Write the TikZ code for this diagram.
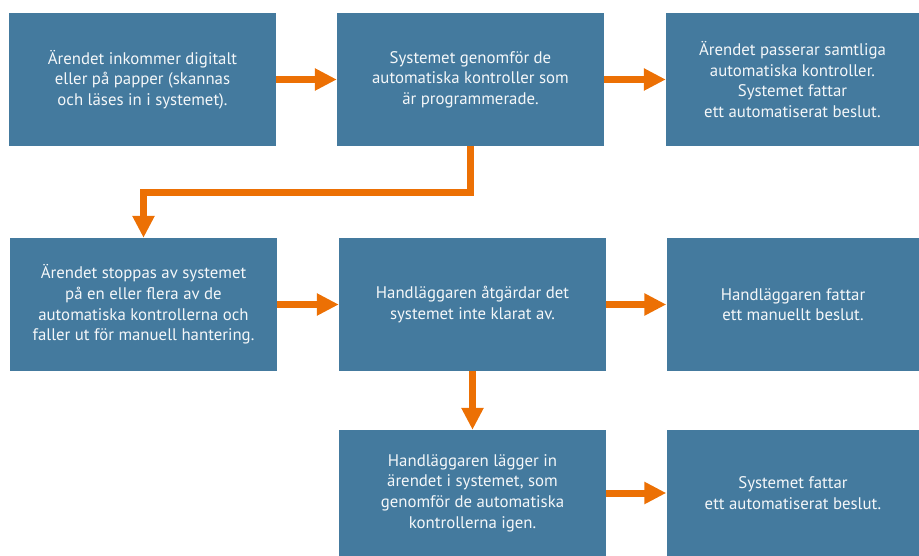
\documentclass[tikz,border=0pt]{standalone}
\usepackage{fontspec}
\setmainfont{PT Sans}
\usetikzlibrary{arrows.meta}
\definecolor{boxblue}{HTML}{447A9E}
\definecolor{arrorange}{HTML}{EC7004}
\tikzset{box/.style={fill=boxblue,text=white!94!boxblue,minimum width=267pt,minimum height=133pt,inner sep=0pt,align=center,font=\fontsize{16.8pt}{20.6pt}\selectfont},
         wbox/.style={box,minimum width=253pt},
         arr/.style={draw=arrorange,line width=7pt,-{Triangle[length=22pt,width=21pt]}},
        }
\begin{document}
\begin{tikzpicture}[x=1pt,y=-1pt]
        \useasboundingbox(0,0)rectangle(919,556);
        \node[box](b1)at(142.5,79.5){Ärendet inkommer digitalt\\eller på papper (skannas\\och läses in i systemet).};
        \node[box](b2)at(470.5,79.5){Systemet genomför de\\automatiska kontroller som\\är programmerade.};
        \node[wbox](b3)at(792.5,79.5){Ärendet passerar samtliga\\automatiska kontroller.\\Systemet fattar\\ett automatiserat beslut.};

        \node[box](b4)at(143.5,304.5){Ärendet stoppas av systemet\\på en eller flera av de\\automatiska kontrollerna och\\faller ut för manuell hantering.};
        \node[box](b5)at(472.5,304.5){Handläggaren åtgärdar det\\systemet inte klarat av.};
        \node[wbox](b6)at(793,304.5){Handläggaren fattar\\ett manuellt beslut.};

        \node[box,minimum height=126pt](b7)at(472.5,493){Handläggaren lägger in\\ärendet i systemet, som\\genomför de automatiska\\kontrollerna igen.};
        \node[wbox,minimum height=126pt](b8)at(793,493){Systemet fattar\\ett automatiserat beslut.};

        \draw[arr](b1.east)--(b2.west);
        \draw[arr](b2.east)--(b3.west);
        \draw[arr](b2.south)--++(0,46)-|(b4.north);
        \draw[arr](b4.east)--(b5.west);
        \draw[arr](b5.east)--(b6.west);
        \draw[arr](b5.south)--(b7.north);
        \draw[arr](b7.east)--(b8.west);
    \end{tikzpicture}
\end{document}
